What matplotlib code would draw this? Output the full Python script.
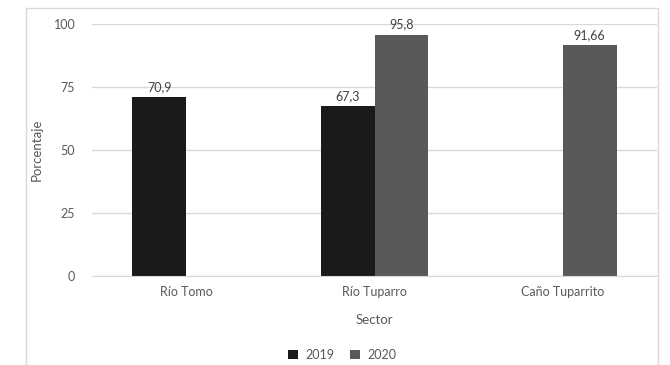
import numpy as np
import matplotlib
matplotlib.use("Agg")
import matplotlib.pyplot as plt
from matplotlib.patches import Rectangle

# data
sectors = ["Río Tomo", "Río Tuparro", "Caño Tuparrito"]
years = ["2019", "2020"]
vals_2019 = [70.9, 67.3, None]
vals_2020 = [None, 95.8, 91.66]
labels_2019 = ["70,9", "67,3", ""]
labels_2020 = ["", "95,8", "91,66"]
yticks = [0, 25, 50, 75, 100]

colors = ["#1a1a1a", "#595959"]
text_col = "#595959"
grid_col = "#d9d9d9"
fs = 9

plt.rcParams["font.family"] = ["Lato", "DejaVu Sans"]

fig = plt.figure(figsize=(6.7, 3.65), dpi=100)
ax = fig.add_axes([92 / 670, 1 - 276 / 365, 565 / 670, 252 / 365])

# outer chart border, bottom edge runs off the image
fig.patches.append(Rectangle((26 / 670, -0.05), 632 / 670, 1 - 8 / 365 + 0.05,
                             transform=fig.transFigure, fill=False,
                             edgecolor=grid_col, linewidth=1.0))

x = np.arange(len(sectors))
w = 0.285
series = [(vals_2019, labels_2019), (vals_2020, labels_2020)]
for i, (vals, labs) in enumerate(series):
    off = (i - 0.5) * w
    xs = [xi + off for xi, v in zip(x, vals) if v is not None]
    ys = [v for v in vals if v is not None]
    ls = [l for l, v in zip(labs, vals) if v is not None]
    bars = ax.bar(xs, ys, width=w, color=colors[i], label=years[i], zorder=3)
    ax.bar_label(bars, labels=ls, padding=3, fontsize=fs, color="#404040")

ax.set_xlim(-0.5, len(sectors) - 0.5)
ax.set_ylim(0, 100)
ax.set_yticks(yticks)
ax.set_xticks(x)
ax.set_xticklabels(sectors)
ax.tick_params(axis="both", length=0, labelsize=fs, labelcolor=text_col)
ax.tick_params(axis="y", pad=12)
ax.tick_params(axis="x", pad=7)
ax.grid(axis="y", color=grid_col, linewidth=1.0, zorder=0)
for s in ["top", "left", "right"]:
    ax.spines[s].set_visible(False)
ax.spines["bottom"].set_color(grid_col)
ax.spines["bottom"].set_zorder(4)

ax.set_ylabel("Porcentaje", fontsize=fs + 0.5, color=text_col, labelpad=8)
ax.set_xlabel("Sector", fontsize=fs + 0.5, color=text_col, labelpad=12)

handles, labs = ax.get_legend_handles_labels()
fig.legend(handles, labs, loc="center", bbox_to_anchor=(342 / 670, 1 - 355 / 365),
           ncol=2, frameon=False, fontsize=fs, labelcolor=text_col,
           handlelength=0.8, handleheight=0.8, columnspacing=1.2,
           handletextpad=0.6, borderpad=0, borderaxespad=0)

fig.savefig("out.png", dpi=100)
